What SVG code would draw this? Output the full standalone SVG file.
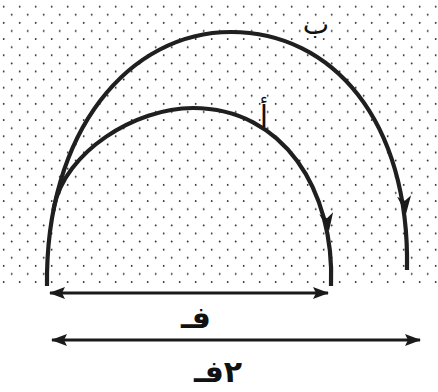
<svg xmlns="http://www.w3.org/2000/svg" width="438" height="392" viewBox="0 0 438 392">
<defs>
<pattern id="dots" patternUnits="userSpaceOnUse" width="16" height="16.2">
<circle cx="3.7" cy="6.7" r="0.95" fill="#2a2a2a"/>
<circle cx="11.7" cy="14.8" r="0.95" fill="#2a2a2a"/>
</pattern>
<marker id="ah" viewBox="0 0 16 12" refX="15" refY="6" markerWidth="16" markerHeight="12" markerUnits="userSpaceOnUse" orient="auto-start-reverse">
<path d="M0,0 L16,6 L0,12 L3,6 Z" fill="#1a1a1a"/>
</marker>
<path id="head" d="M0,0 L-18,-7 L-13,0 L-18,7 Z" fill="#1a1a1a"/>
</defs>
<style>
.arc{fill:none;stroke:#1f1f1f;stroke-width:4.2;stroke-linecap:butt}
.dim{fill:none;stroke:#1a1a1a;stroke-width:3}
.lbl{font-family:"DejaVu Sans","Noto Sans",sans-serif;fill:#111;text-anchor:middle}
</style>
<rect x="0" y="0" width="438" height="392" fill="#ffffff"/>
<rect x="0" y="0" width="438" height="286" fill="url(#dots)"/>
<g id="connectors">
<path id="arc-b" class="arc" d="M47,286 C45,130 130,32 231,32 C332,32 410,120 407,270"/>
<use href="#head" transform="translate(406,214) rotate(84)"/>
<path id="arc-a" class="arc" d="M53.4,211 C54,207 54,207 54,207 C65,152 135,108 193,108 C283,108 335,190 331,286"/>
<use href="#head" transform="translate(329,231) rotate(81)"/>
<line id="dim-f" class="dim" x1="50" y1="293" x2="328" y2="293" marker-start="url(#ah)" marker-end="url(#ah)"/>
<line id="dim-2f" class="dim" x1="52" y1="340" x2="420" y2="340" marker-start="url(#ah)" marker-end="url(#ah)"/>
</g>
<g id="label-b"><text class="lbl" x="316" y="34" font-size="28">ب</text></g>
<g id="label-a"><text class="lbl" x="264" y="127" font-size="30">أ</text></g>
<g id="label-f"><text class="lbl" x="196" y="328" font-size="30" font-weight="bold" direction="rtl">فـ</text></g>
<g id="label-2f"><text class="lbl" x="218" y="382" font-size="30" font-weight="bold" direction="rtl">٢فـ</text></g>
</svg>
